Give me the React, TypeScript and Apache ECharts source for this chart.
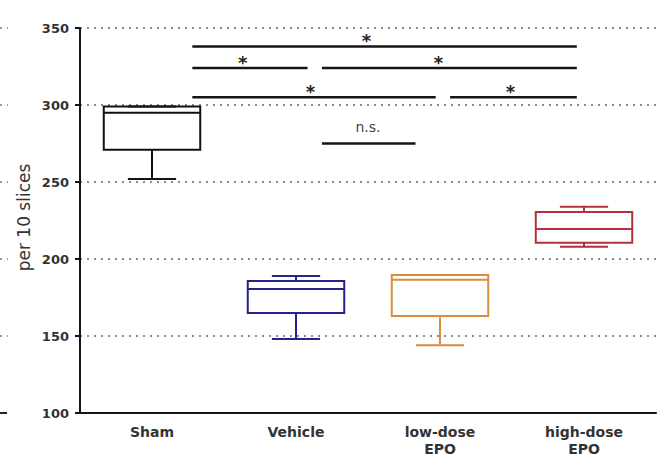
import React, { useEffect, useRef } from "react";
import * as echarts from "echarts";

const categories = ["Sham", "Vehicle", "low-dose\nEPO", "high-dose\nEPO"];
const minValues = [252, 148, 144, 208];
const q1Values = [271, 165, 163, 210.5];
const medianValues = [295, 180.5, 186.5, 219.5];
const q3Values = [299, 185.7, 189.6, 230.5];
const maxValues = [299, 189, 189.6, 234];
const boxColors = ["#111111", "#24248c", "#dc8c3c", "#b3303c"];
const yMin = 100;
const yMax = 350;
const yInterval = 50;
const yTitle = "per 10 slices";

// significance brackets: category-position range, value level, label
const bracketFrom = [0.28, 0.28, 1.18, 0.28, 2.07, 1.18];
const bracketTo = [2.95, 1.08, 2.95, 1.97, 2.95, 1.83];
const bracketLevel = [338, 324, 324, 305, 305, 275];
const bracketLabel = ["*", "*", "*", "*", "*", "n.s."];
const bracketLabelPos = [1.49, 0.63, 1.99, 1.1, 2.49, 1.5];

const FONT = "DejaVu Sans";

export default function App() {
  const ref = useRef<HTMLDivElement>(null);
  useEffect(() => {
    document.body.style.margin = "0";
    if (!ref.current) return;
    const chart = echarts.init(ref.current, null, { renderer: "svg" });
    const data = categories.map((_, i) => [
      i,
      minValues[i],
      q1Values[i],
      medianValues[i],
      q3Values[i],
      maxValues[i],
    ]);
    chart.setOption({
      animation: false,
      backgroundColor: "#ffffff",
      textStyle: { fontFamily: FONT },
      grid: { left: 80, right: 2, top: 28, bottom: 46 },
      xAxis: {
        type: "category",
        data: categories,
        boundaryGap: true,
        axisLine: { lineStyle: { color: "#151515", width: 2 } },
        axisTick: { alignWithLabel: true, length: 5, lineStyle: { color: "#151515", width: 2 } },
        axisLabel: {
          margin: 10,
          fontFamily: FONT,
          fontSize: 14,
          fontWeight: "bold",
          lineHeight: 17,
          color: "#333333",
        },
        splitLine: { show: false },
      },
      yAxis: {
        type: "value",
        min: yMin,
        max: yMax,
        interval: yInterval,
        axisLine: { show: true, lineStyle: { color: "#151515", width: 2 } },
        axisTick: { show: true, length: 5, lineStyle: { color: "#151515", width: 2 } },
        axisLabel: {
          margin: 11,
          fontFamily: FONT,
          fontSize: 13,
          fontWeight: "bold",
          color: "#333333",
        },
        splitLine: {
          show: true,
          lineStyle: { color: "#8a8a8a", width: 2, type: [2, 5] },
        },
      },
      series: [
        {
          type: "custom",
          data,
          encode: { x: 0, y: [1, 2, 3, 4, 5] },
          renderItem: (params: any, api: any) => {
            const idx = api.value(0);
            const xc = api.coord([idx, api.value(3)])[0];
            const bw = api.size([1, 0])[0] * 0.67;
            const py = (v: number) => api.coord([idx, v])[1];
            const pMin = py(api.value(1));
            const pQ1 = py(api.value(2));
            const pMed = py(api.value(3));
            const pQ3 = py(api.value(4));
            const pMax = py(api.value(5));
            const color = boxColors[params.dataIndex];
            const ls = { stroke: color, lineWidth: 2 };
            return {
              type: "group",
              children: [
                { type: "line", shape: { x1: xc, y1: pQ3, x2: xc, y2: pMax }, style: ls },
                { type: "line", shape: { x1: xc, y1: pQ1, x2: xc, y2: pMin }, style: ls },
                { type: "line", shape: { x1: xc - bw / 4, y1: pMax, x2: xc + bw / 4, y2: pMax }, style: ls },
                { type: "line", shape: { x1: xc - bw / 4, y1: pMin, x2: xc + bw / 4, y2: pMin }, style: ls },
                {
                  type: "rect",
                  shape: { x: xc - bw / 2, y: pQ3, width: bw, height: pQ1 - pQ3 },
                  style: { stroke: color, lineWidth: 2, fill: "rgba(255,255,255,0)" },
                },
                { type: "line", shape: { x1: xc - bw / 2, y1: pMed, x2: xc + bw / 2, y2: pMed }, style: ls },
              ],
            };
          },
        },
      ],
    });

    const toPx = (pos: number, v: number) => {
      const c0 = chart.convertToPixel({ gridIndex: 0 }, [0, v]) as number[];
      const c1 = chart.convertToPixel({ gridIndex: 0 }, [1, v]) as number[];
      return [c0[0] + pos * (c1[0] - c0[0]), c0[1]];
    };

    const graphics: any[] = [];
    bracketLevel.forEach((lv, i) => {
      const a = toPx(bracketFrom[i], lv);
      const b = toPx(bracketTo[i], lv);
      const l = toPx(bracketLabelPos[i], lv);
      graphics.push({
        type: "line",
        shape: { x1: a[0], y1: a[1], x2: b[0], y2: b[1] },
        style: { stroke: "#151515", lineWidth: 2.5 },
      });
      const isStar = bracketLabel[i] === "*";
      graphics.push({
        type: "text",
        x: l[0],
        y: l[1] - (isStar ? 6 : 17),
        style: {
          text: bracketLabel[i],
          fontFamily: FONT,
          fontSize: isStar ? 18 : 14,
          fontWeight: isStar ? "bold" : "normal",
          fill: isStar ? "#222222" : "#444444",
          align: "center",
          verticalAlign: "middle",
        },
      });
    });

    // y-axis title
    const mid = toPx(0, (yMin + yMax) / 2);
    graphics.push({
      type: "text",
      x: 24,
      y: mid[1] - 3,
      rotation: Math.PI / 2,
      style: {
        text: yTitle,
        fontFamily: FONT,
        fontSize: 17,
        fill: "#333333",
        align: "center",
        verticalAlign: "middle",
      },
    });

    // remnants of neighbouring panel at left edge
    for (let v = yMin + yInterval; v <= yMax; v += yInterval) {
      const p = toPx(0, v);
      graphics.push({
        type: "line",
        shape: { x1: 0, y1: p[1], x2: 8, y2: p[1] },
        style: { stroke: "#9a9a9a", lineWidth: 2, lineDash: [2, 5] },
      });
    }
    const base = toPx(0, yMin);
    graphics.push({
      type: "line",
      shape: { x1: 0, y1: base[1], x2: 7, y2: base[1] },
      style: { stroke: "#222222", lineWidth: 2 },
    });

    chart.setOption({ graphic: graphics });
    return () => chart.dispose();
  }, []);
  return <div ref={ref} style={{ width: 658, height: 459 }} />;
}
